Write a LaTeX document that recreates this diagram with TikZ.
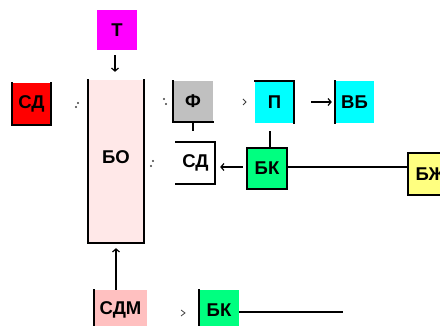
\documentclass[tikz,border=0pt]{standalone}
\usepackage{fontspec}
\setmainfont{Liberation Sans}
\usetikzlibrary{arrows.meta}
\definecolor{cMag}{HTML}{FF00FF}
\definecolor{cRed}{HTML}{FF0000}
\definecolor{cBO}{HTML}{FFE8E8}
\definecolor{cGray}{HTML}{C0C0C0}
\definecolor{cCyan}{HTML}{00FFFF}
\definecolor{cGreen}{HTML}{00FF80}
\definecolor{cYellow}{HTML}{FFFF80}
\definecolor{cPink}{HTML}{FFC0C0}
\definecolor{cTick}{HTML}{404040}
\tikzset{
  box/.style={rectangle, inner sep=0pt, font=\bfseries\fontsize{18.5}{18.5}\selectfont},
  edge/.style={line width=1.6pt, line cap=rect},
  conn/.style={line width=1.2pt},
  arr/.style={conn, -{Straight Barb[length=3pt,width=7pt]}},
  tick/.style={cTick, line width=0.8pt}
}
\begin{document}
\begin{tikzpicture}[x=1pt, y=-1pt]
\useasboundingbox (0,0) rectangle (440,326);

% blocks
\node[box, fill=cMag, minimum width=40pt, minimum height=40pt] (t) at (117,30) {Т};
\node[box, fill=cRed, minimum width=39pt, minimum height=42pt] (sd1) at (31.5,104) {СД};
\node[box, fill=cBO, minimum width=56pt, minimum height=163pt] (bo) at (116,161.5) {};
\node[box] at (116,157) {БО};
\node[box, fill=cGray, minimum width=40pt, minimum height=41pt] (f) at (193,101.5) {Ф};
\node[box, fill=white, minimum width=39pt, minimum height=42pt] (sd2) at (195.5,163) {СД};
\node[box, fill=cCyan, minimum width=39pt, minimum height=42pt] (p) at (274.5,102) {П};
\node[box, fill=cCyan, minimum width=39pt, minimum height=42pt] (vb) at (354.5,102) {ВБ};
\node[box, fill=cGreen, minimum width=40pt, minimum height=41pt] (bk1) at (267,168.5) {БК};
\node[box, fill=cYellow, minimum width=42pt, minimum height=42pt] (bzh) at (429,174) {\hspace*{3pt}БЖ};
\node[box, fill=cPink, minimum width=53pt, minimum height=40pt] (sdm) at (120.5,310) {СДМ};
\node[box, fill=cGreen, minimum width=40pt, minimum height=40pt] (bk2) at (219,310) {БК};

% block outlines (partly drawn edges)
\draw[edge] (sd1.north west) -- (sd1.south west) -- (sd1.south east) -- (sd1.north east);
\draw[edge] (bo.north west) -- (bo.south west) -- (bo.south east) -- (bo.north east);
\draw[edge] (f.north west) -- (f.south west) -- (f.south east);
\draw[edge] (sd2.north west) -- (sd2.north east) -- (sd2.south east) -- (sd2.south west);
\draw[edge] (p.north west) -- (p.north east) -- (p.south east);
\draw[edge] (vb.north west) -- (vb.south west);
\draw[edge] (bk1.north west) rectangle (bk1.south east);
\draw[edge] (bzh.north east) -- (bzh.north west) -- (bzh.south west) -- (bzh.south east);
\draw[edge] (sdm.north west) -- (sdm.south west);
\draw[edge] (bk2.north west) -- (bk2.south west);

% connectors
\draw[arr, shorten <=5pt, shorten >=8pt] ([xshift=-2pt]t.south) -- ([xshift=-2pt]t.south |- bo.north);
\draw[arr, shorten >=5pt] ([xshift=-4.5pt]sdm.north) -- ([xshift=-4.5pt]sdm.north |- bo.south);
\draw[conn, shorten >=11pt] (f.south) -- (f.south |- sd2.north);
\draw[conn, shorten <=8pt] ([xshift=-4.5pt]p.south) -- ([xshift=-4.5pt]p.south |- bk1.north);
\draw[arr, shorten <=17pt, shorten >=3pt] (p.east) -- (p.east -| vb.west);
\draw[arr, shorten <=4pt, shorten >=5pt] ([yshift=1.5pt]bk1.west) -- ([yshift=1.5pt]bk1.west -| sd2.east);
\draw[conn] ([yshift=1.5pt]bk1.east) -- ([yshift=1.5pt]bk1.east -| bzh.west);
\coordinate (bk2end) at (343,312);
\draw[conn] ([yshift=-2pt]bk2.east) -- (bk2end);

% faint arrow tips
\fill[cTick] (78,103) circle (1.1pt) (76,107) circle (1.1pt);
\fill[cTick] (164,99) circle (1.1pt) (166,104) circle (1.1pt);
\fill[cTick] (153,161) circle (1.1pt) (151,166) circle (1.1pt);
\draw[tick] (243,99) -- (246,102) -- (243,105);
\draw[tick] (181,310) -- (185,313) -- (181,316);
\end{tikzpicture}
\end{document}
